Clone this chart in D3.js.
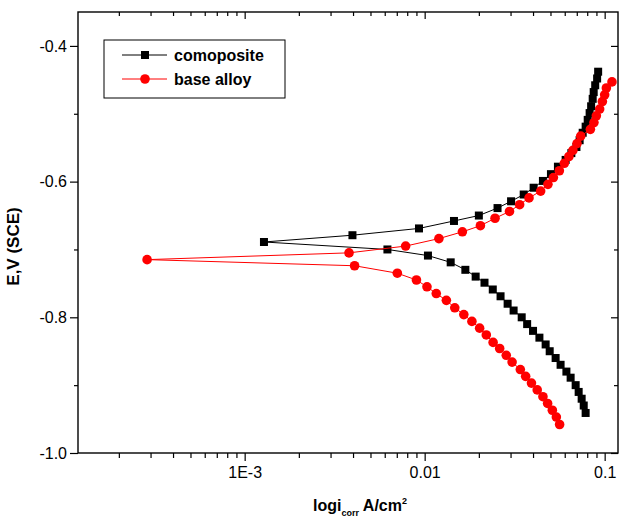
<!DOCTYPE html>
<html>
<head>
<meta charset="utf-8">
<script src="https://cdn.jsdelivr.net/npm/d3@7"></script>
<style>
  body { margin: 0; background: #fff; }
  text { font-family: Arial, "Liberation Sans", sans-serif; }
</style>
</head>
<body>
<div id="chart"></div>
<script>
// composite: anodic branch starts at the tip (corrosion potential)
let compAnodE = [-0.689, -0.679, -0.669, -0.658, -0.650, -0.639, -0.629, -0.619, -0.609, -0.599, -0.589, -0.578, -0.568,
    -0.558, -0.549, -0.539, -0.528, -0.519, -0.509, -0.499, -0.489, -0.478, -0.468, -0.458, -0.448, -0.438];
let compAnodI = [0.00128, 0.00397, 0.00930, 0.01455, 0.0200, 0.0254, 0.0302, 0.0355, 0.0403, 0.0454, 0.0503, 0.0550, 0.0607,
    0.0653, 0.0697, 0.0726, 0.0755, 0.0784, 0.0805, 0.0825, 0.0841, 0.0858, 0.0869, 0.0886, 0.0908, 0.0920];
let compCathE = [-0.700, -0.709, -0.719, -0.730, -0.740, -0.749, -0.759, -0.769, -0.780, -0.790, -0.800, -0.810, -0.820,
    -0.830, -0.840, -0.850, -0.860, -0.870, -0.880, -0.889, -0.900, -0.910, -0.920, -0.930, -0.941];
let compCathI = [0.00621, 0.01043, 0.01395, 0.01683, 0.0192, 0.0215, 0.0239, 0.0264, 0.0289, 0.0312, 0.0346, 0.0371, 0.0400,
    0.0434, 0.0470, 0.0495, 0.0534, 0.0569, 0.0613, 0.0647, 0.0690, 0.0717, 0.0745, 0.0765, 0.0784];

// base alloy
let baseAnodE = [-0.715, -0.705, -0.695, -0.684, -0.674, -0.665, -0.654, -0.644, -0.634, -0.624, -0.614, -0.604, -0.594,
    -0.584, -0.573, -0.563, -0.554, -0.544, -0.533, -0.523, -0.513, -0.503, -0.493, -0.482, -0.472, -0.462, -0.453];
let baseAnodI = [0.000287, 0.00380, 0.00784, 0.0120, 0.0162, 0.0204, 0.0246, 0.0296, 0.0337, 0.0380, 0.0441, 0.0484, 0.0519,
    0.0560, 0.0597, 0.0633, 0.0666, 0.0702, 0.0736, 0.0833, 0.0872, 0.0899, 0.0938, 0.0971, 0.1000, 0.1022, 0.1098];
let baseCathE = [-0.724, -0.735, -0.745, -0.755, -0.765, -0.775, -0.786, -0.796, -0.806, -0.816, -0.826, -0.837,
    -0.846, -0.856, -0.866, -0.877, -0.887, -0.897, -0.907, -0.917, -0.927, -0.937, -0.947, -0.958];
let baseCathI = [0.00408, 0.00705, 0.00900, 0.0103, 0.0116, 0.0132, 0.0147, 0.0165, 0.0183, 0.0202, 0.0220, 0.0240,
    0.0261, 0.0284, 0.0306, 0.0340, 0.0364, 0.0392, 0.0422, 0.0454, 0.0482, 0.0512, 0.0539, 0.0562];

let seriesNames = ['comoposite', 'base alloy'];
let yTicks = [-1.0, -0.8, -0.6, -0.4];
let yTickLabels = ['-1.0', '-0.8', '-0.6', '-0.4'];
let xTicks = [1e-3, 1e-2, 1e-1];
let xTickLabels = ['1E-3', '0.01', '0.1'];

let margin = { top: 12, right: 2, bottom: 66, left: 78 };
let width = 620 - margin.left - margin.right;
let height = 519 - margin.top - margin.bottom;

let svg = d3.select('#chart')
    .append('svg')
    .attr('width', 620)
    .attr('height', 519)
    .append('g')
    .attr('transform', `translate(${margin.left}, ${margin.top})`);

let x = d3.scaleLog().domain([1.186e-4, 0.1186]).range([0, width]);
let y = d3.scaleLinear().domain([-1.0, -0.35]).range([height, 0]);

// minor ticks 2..9 inside each decade
let xMinor = [];
[1e-4, 1e-3, 1e-2].forEach(dec => {
    for (let k = 2; k <= 9; k++) {
        let v = k * dec;
        if (v >= x.domain()[0] && v <= x.domain()[1]) xMinor.push(v);
    }
});
let yMinor = [-0.9, -0.7, -0.5];

// join cathodic (reversed, from most negative) and anodic branch into one scan
function scan(cE, cI, aE, aI) {
    let pts = [];
    for (let k = cE.length - 1; k >= 0; k--) pts.push({ e: cE[k], i: cI[k] });
    for (let k = 0; k < aE.length; k++) pts.push({ e: aE[k], i: aI[k] });
    return pts;
}
let compData = scan(compCathE, compCathI, compAnodE, compAnodI);
let baseData = scan(baseCathE, baseCathI, baseAnodE, baseAnodI);

// axes
let gx = svg.append('g')
    .attr('transform', `translate(0,${height})`)
    .call(d3.axisBottom(x).tickValues(xTicks).tickFormat((d, k) => xTickLabels[k]).tickSize(8).tickPadding(6));
gx.selectAll('text').style('font-size', '16px').attr('fill', '#000');
svg.append('g')
    .attr('transform', `translate(0,${height})`)
    .call(d3.axisBottom(x).tickValues(xMinor).tickFormat('').tickSize(5));

svg.append('g')
    .call(d3.axisTop(x).tickValues(xTicks).tickFormat('').tickSize(-7));
svg.append('g')
    .call(d3.axisTop(x).tickValues(xMinor).tickFormat('').tickSize(-4));

// hyphen minus like the original, not the unicode minus of d3.format
let gy = svg.append('g')
    .call(d3.axisLeft(y).tickValues(yTicks).tickFormat((d, k) => yTickLabels[k]).tickSize(8).tickPadding(3));
gy.selectAll('text').style('font-size', '16px').attr('fill', '#000');
svg.append('g')
    .call(d3.axisLeft(y).tickValues(yMinor).tickFormat('').tickSize(4));

svg.append('g')
    .attr('transform', `translate(${width},0)`)
    .call(d3.axisRight(y).tickValues(yTicks).tickFormat('').tickSize(-7));
svg.append('g')
    .attr('transform', `translate(${width},0)`)
    .call(d3.axisRight(y).tickValues(yMinor).tickFormat('').tickSize(-4));

svg.selectAll('.domain').remove();
svg.selectAll('.tick line').attr('stroke', '#000').attr('stroke-width', 1.2);

svg.append('rect')
    .attr('width', width)
    .attr('height', height)
    .attr('fill', 'none')
    .attr('stroke', '#000')
    .attr('stroke-width', 1.4);

// axis titles
svg.append('text')
    .attr('transform', `translate(${-59},${height / 2 + 14}) rotate(-90)`)
    .attr('text-anchor', 'middle')
    .style('font-size', '17px')
    .style('font-weight', 'bold')
    .text('E,V (SCE)');

let xt = svg.append('text')
    .attr('x', width / 2 + 12)
    .attr('y', height + 58)
    .attr('text-anchor', 'middle')
    .style('font-size', '16px')
    .style('font-weight', 'bold');
xt.append('tspan').text('logi');
xt.append('tspan').attr('dy', 5).style('font-size', '9px').text('corr');
xt.append('tspan').attr('dy', -5).text(' A/cm');
xt.append('tspan').attr('dy', -7).style('font-size', '9px').text('2');

let line = d3.line().x(d => x(d.i)).y(d => y(d.e));

// composite (black squares)
svg.append('path')
    .datum(compData)
    .attr('d', line)
    .attr('fill', 'none')
    .attr('stroke', '#000')
    .attr('stroke-width', 1);
svg.selectAll('.sq')
    .data(compData)
    .enter()
    .append('rect')
    .attr('class', 'sq')
    .attr('x', d => x(d.i) - 4)
    .attr('y', d => y(d.e) - 4)
    .attr('width', 8)
    .attr('height', 8)
    .attr('fill', '#000');

// base alloy (red circles)
svg.append('path')
    .datum(baseData)
    .attr('d', line)
    .attr('fill', 'none')
    .attr('stroke', '#ff0000')
    .attr('stroke-width', 1);
svg.selectAll('.ci')
    .data(baseData)
    .enter()
    .append('circle')
    .attr('class', 'ci')
    .attr('cx', d => x(d.i))
    .attr('cy', d => y(d.e))
    .attr('r', 4.8)
    .attr('fill', '#ff0000');

// legend
let legend = svg.append('g').attr('transform', 'translate(26,28)');
legend.append('rect')
    .attr('width', 181)
    .attr('height', 58)
    .attr('fill', '#fff')
    .attr('stroke', '#000')
    .attr('stroke-width', 1);
let colors = ['#000', '#ff0000'];
seriesNames.forEach((name, k) => {
    let ly = 15 + k * 24;
    legend.append('line')
        .attr('x1', 18).attr('x2', 63)
        .attr('y1', ly).attr('y2', ly)
        .attr('stroke', colors[k])
        .attr('stroke-width', 1);
    if (k === 0) {
        legend.append('rect').attr('x', 37).attr('y', ly - 4).attr('width', 8).attr('height', 8).attr('fill', '#000');
    } else {
        legend.append('circle').attr('cx', 41).attr('cy', ly).attr('r', 4.8).attr('fill', '#ff0000');
    }
    legend.append('text')
        .attr('x', 70)
        .attr('y', ly + 6)
        .style('font-size', '16px')
        .style('font-weight', 'bold')
        .text(name);
});
</script>
</body>
</html>
